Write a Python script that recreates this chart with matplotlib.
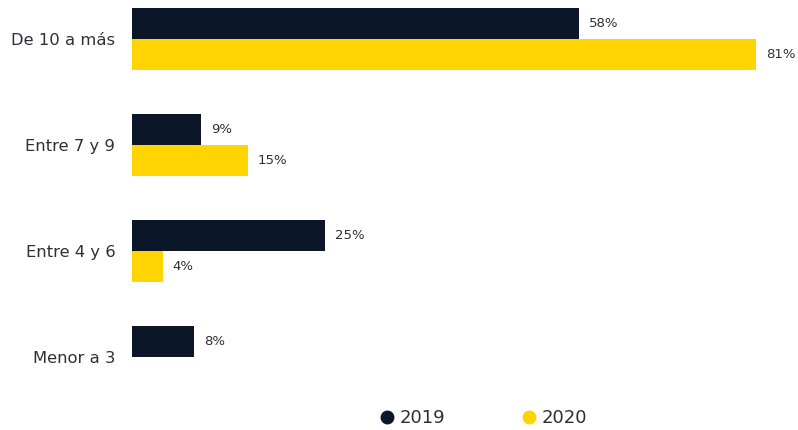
import matplotlib
matplotlib.use("Agg")
import matplotlib.pyplot as plt
from matplotlib.lines import Line2D

categories = ["De 10 a más", "Entre 7 y 9", "Entre 4 y 6", "Menor a 3"]
values_2019 = [58, 9, 25, 8]
values_2020 = [81, 15, 4, None]
series_names = ["2019", "2020"]

NAVY = "#0c1629"
YELLOW = "#ffd400"
TEXT = "#2e2e38"

plt.rcParams["font.family"] = ["DejaVu Sans"]

W, H = 798, 430
fig = plt.figure(figsize=(W / 100, H / 100), dpi=100)
ax = fig.add_axes([132 / W, 30 / H, (W - 132) / W, (H - 30) / H])

bar_h = 0.288
ypos = list(range(len(categories)))

for i, (v19, v20) in enumerate(zip(values_2019, values_2020)):
    if v19 is not None:
        ax.barh(i - bar_h / 2, v19, height=bar_h, color=NAVY, linewidth=0)
        ax.text(v19 + 1.3, i - bar_h / 2, f"{v19}%", va="center", ha="left",
                fontsize=9.5, color=TEXT)
    if v20 is not None:
        ax.barh(i + bar_h / 2, v20, height=bar_h, color=YELLOW, linewidth=0)
        ax.text(v20 + 1.3, i + bar_h / 2, f"{v20}%", va="center", ha="left",
                fontsize=9.5, color=TEXT)

ax.set_xlim(0, 86.4)
ax.set_ylim(3.406, -0.368)
ax.set_yticks(ypos)
ax.set_yticklabels(categories, fontsize=11.8, color=TEXT)
ax.tick_params(axis="y", length=0, pad=12)
ax.set_xticks([])
for s in ax.spines.values():
    s.set_visible(False)

handles = [
    Line2D([], [], marker="o", linestyle="none", markersize=9, color=NAVY),
    Line2D([], [], marker="o", linestyle="none", markersize=9, color=YELLOW),
]
fig.legend(handles, series_names, loc="center", ncol=2,
           bbox_to_anchor=(484 / W, 1 - 418 / H), frameon=False,
           fontsize=13, labelcolor=TEXT, handlelength=0.7,
           handletextpad=0.35, columnspacing=4.3)

fig.savefig("out.png", dpi=100)
